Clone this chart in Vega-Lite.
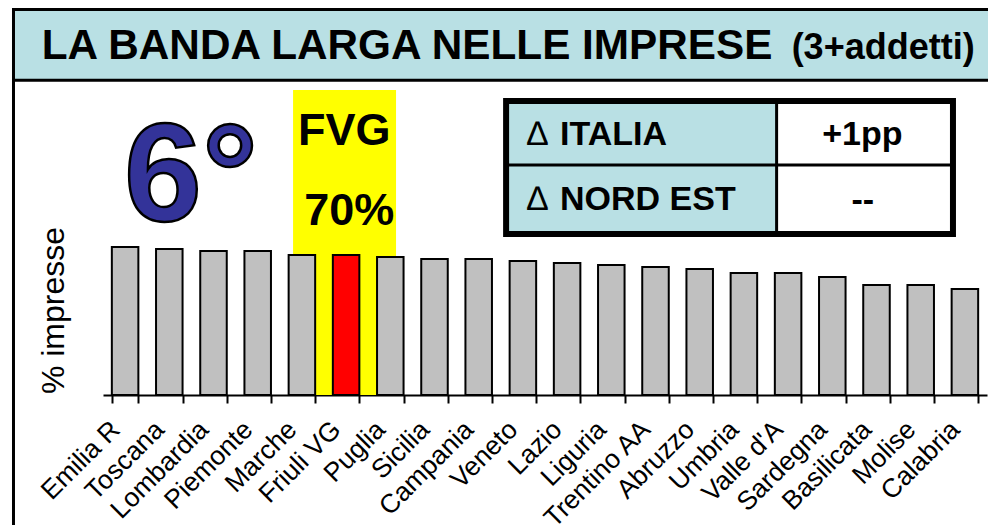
{
  "$schema": "https://vega.github.io/schema/vega-lite/v6.json",
  "width": 884,
  "height": 313,
  "autosize": {"type": "none"},
  "padding": {"left": 103, "top": 82, "right": 1, "bottom": 130},
  "background": "white",
  "config": {"view": {"stroke": null}, "font": "Liberation Sans", "text": {"font": "Liberation Sans"}},
  "datasets": {
    "bars": [
      {"regione": "Emilia R", "pct": 74},
      {"regione": "Toscana", "pct": 73},
      {"regione": "Lombardia", "pct": 72},
      {"regione": "Piemonte", "pct": 72},
      {"regione": "Marche", "pct": 70},
      {"regione": "Friuli VG", "pct": 70},
      {"regione": "Puglia", "pct": 69},
      {"regione": "Sicilia", "pct": 68},
      {"regione": "Campania", "pct": 68},
      {"regione": "Veneto", "pct": 67},
      {"regione": "Lazio", "pct": 66},
      {"regione": "Liguria", "pct": 65},
      {"regione": "Trentino AA", "pct": 64},
      {"regione": "Abruzzo", "pct": 63},
      {"regione": "Umbria", "pct": 61},
      {"regione": "Valle d'A", "pct": 61},
      {"regione": "Sardegna", "pct": 59},
      {"regione": "Basilicata", "pct": 55},
      {"regione": "Molise", "pct": 55},
      {"regione": "Calabria", "pct": 53}
    ],
    "one": [{}]
  },
  "resolve": {"scale": {"x": "independent"}, "axis": {"x": "independent", "y": "independent"}},
  "layer": [
    {
      "data": {"name": "one"},
      "mark": {"type": "rect", "fill": "#b9e0e4", "stroke": "black", "strokeWidth": 3},
      "encoding": {
        "x": {"datum": -2.025, "type": "quantitative", "scale": {"domain": [0, 20], "nice": false, "zero": false}, "axis": null},
        "x2": {"datum": 25},
        "y": {"datum": 192.75, "type": "quantitative", "scale": {"domain": [0, 156.5], "nice": false}, "axis": null},
        "y2": {"datum": 157.35}
      }
    },
    {
      "data": {"name": "one"},
      "mark": {"type": "rule", "stroke": "black", "strokeWidth": 3},
      "encoding": {
        "x": {"datum": -2.025, "type": "quantitative", "scale": {"domain": [0, 20], "nice": false, "zero": false}, "axis": null},
        "y": {"datum": 157.35, "type": "quantitative", "scale": {"domain": [0, 156.5], "nice": false}, "axis": null},
        "y2": {"datum": -90}
      }
    },
    {
      "data": {"name": "one"},
      "mark": {"type": "text", "fontSize": 42.3, "fontWeight": "bold", "align": "left", "baseline": "alphabetic", "color": "black"},
      "encoding": {
        "x": {"datum": -1.387, "type": "quantitative", "scale": {"domain": [0, 20], "nice": false, "zero": false}, "axis": null},
        "y": {"datum": 168, "type": "quantitative", "scale": {"domain": [0, 156.5], "nice": false}, "axis": null},
        "text": {"value": "LA BANDA LARGA NELLE IMPRESE"}
      }
    },
    {
      "data": {"name": "one"},
      "mark": {"type": "text", "fontSize": 36, "fontWeight": "bold", "align": "left", "baseline": "alphabetic", "color": "black"},
      "encoding": {
        "x": {"datum": 15.58, "type": "quantitative", "scale": {"domain": [0, 20], "nice": false, "zero": false}, "axis": null},
        "y": {"datum": 168, "type": "quantitative", "scale": {"domain": [0, 156.5], "nice": false}, "axis": null},
        "text": {"value": "(3+addetti)"}
      }
    },
    {
      "data": {"name": "one"},
      "mark": {"type": "rect", "fill": "#ffff00"},
      "encoding": {
        "x": {"datum": 4.3, "type": "quantitative", "scale": {"domain": [0, 20], "nice": false, "zero": false}, "axis": null},
        "x2": {"datum": 6.63},
        "y": {"datum": 152.5, "type": "quantitative", "scale": {"domain": [0, 156.5], "nice": false}, "axis": null},
        "y2": {"datum": 0}
      }
    },
    {
      "data": {"name": "bars"},
      "mark": {"type": "bar", "stroke": "black", "strokeWidth": 2},
      "encoding": {
        "x": {
          "field": "regione", "type": "nominal", "sort": null,
          "scale": {"paddingInner": 0.4, "paddingOuter": 0.2},
          "axis": {
            "title": null, "labelAngle": -45, "labelFontSize": 26.5, "labelColor": "black", "labelFont": "Liberation Sans",
            "labelOverlap": false, "labelLimit": 400, "tickBand": "extent", "domainColor": "black", "domainWidth": 2,
            "tickColor": "black", "tickWidth": 2, "tickSize": 8, "labelPadding": 13, "labelOffset": -19, "grid": false
          }
        },
        "y": {
          "field": "pct", "type": "quantitative",
          "scale": {"domain": [0, 156.5], "nice": false},
          "axis": {
            "title": "% impresse", "domain": false, "ticks": false, "labels": false, "grid": false,
            "titleFontSize": 32, "titleFontWeight": "normal", "titleColor": "black", "titleFont": "Liberation Sans",
            "titlePadding": 33, "titleY": 228
          }
        },
        "fill": {"condition": {"test": "datum.regione === 'Friuli VG'", "value": "#ff0000"}, "value": "#c0c0c0"}
      }
    },
    {
      "data": {"name": "one"},
      "mark": {"type": "text", "fontSize": 45, "fontWeight": "bold", "align": "center", "baseline": "alphabetic", "color": "black"},
      "encoding": {
        "x": {"datum": 5.46, "type": "quantitative", "scale": {"domain": [0, 20], "nice": false, "zero": false}, "axis": null},
        "y": {"datum": 125, "type": "quantitative", "scale": {"domain": [0, 156.5], "nice": false}, "axis": null},
        "text": {"value": "FVG"}
      }
    },
    {
      "data": {"name": "one"},
      "mark": {"type": "text", "fontSize": 45, "fontWeight": "bold", "align": "center", "baseline": "alphabetic", "color": "black"},
      "encoding": {
        "x": {"datum": 5.57, "type": "quantitative", "scale": {"domain": [0, 20], "nice": false, "zero": false}, "axis": null},
        "y": {"datum": 85, "type": "quantitative", "scale": {"domain": [0, 156.5], "nice": false}, "axis": null},
        "text": {"value": "70%"}
      }
    },
    {
      "data": {"name": "one"},
      "mark": {"type": "text", "fontSize": 140, "fontWeight": "bold", "align": "center", "baseline": "alphabetic", "fill": "#333399", "stroke": "black", "strokeWidth": 2.5},
      "encoding": {
        "x": {"datum": 1.99, "type": "quantitative", "scale": {"domain": [0, 20], "nice": false, "zero": false}, "axis": null},
        "y": {"datum": 87, "type": "quantitative", "scale": {"domain": [0, 156.5], "nice": false}, "axis": null},
        "text": {"value": "6°"}
      }
    },
    {
      "data": {"name": "one"},
      "mark": {"type": "rect", "fill": "#b9e0e4"},
      "encoding": {
        "x": {"datum": 9.12, "type": "quantitative", "scale": {"domain": [0, 20], "nice": false, "zero": false}, "axis": null},
        "x2": {"datum": 15.24},
        "y": {"datum": 147, "type": "quantitative", "scale": {"domain": [0, 156.5], "nice": false}, "axis": null},
        "y2": {"datum": 80.5}
      }
    },
    {
      "data": {"name": "one"},
      "mark": {"type": "rule", "stroke": "black", "strokeWidth": 3},
      "encoding": {
        "x": {"datum": 9.12, "type": "quantitative", "scale": {"domain": [0, 20], "nice": false, "zero": false}, "axis": null},
        "x2": {"datum": 19.23},
        "y": {"datum": 115, "type": "quantitative", "scale": {"domain": [0, 156.5], "nice": false}, "axis": null}
      }
    },
    {
      "data": {"name": "one"},
      "mark": {"type": "rule", "stroke": "black", "strokeWidth": 3},
      "encoding": {
        "x": {"datum": 15.24, "type": "quantitative", "scale": {"domain": [0, 20], "nice": false, "zero": false}, "axis": null},
        "y": {"datum": 147, "type": "quantitative", "scale": {"domain": [0, 156.5], "nice": false}, "axis": null},
        "y2": {"datum": 80.5}
      }
    },
    {
      "data": {"name": "one"},
      "mark": {"type": "rect", "fill": "white", "fillOpacity": 0, "stroke": "black", "strokeWidth": 6},
      "encoding": {
        "x": {"datum": 9.12, "type": "quantitative", "scale": {"domain": [0, 20], "nice": false, "zero": false}, "axis": null},
        "x2": {"datum": 19.23},
        "y": {"datum": 147, "type": "quantitative", "scale": {"domain": [0, 156.5], "nice": false}, "axis": null},
        "y2": {"datum": 80.5}
      }
    },
    {
      "data": {"name": "one"},
      "mark": {"type": "text", "fontSize": 34, "fontWeight": "normal", "align": "left", "baseline": "alphabetic", "color": "black"},
      "encoding": {
        "x": {"datum": 9.593, "type": "quantitative", "scale": {"domain": [0, 20], "nice": false, "zero": false}, "axis": null},
        "y": {"datum": 125, "type": "quantitative", "scale": {"domain": [0, 156.5], "nice": false}, "axis": null},
        "text": {"value": "∆"}
      }
    },
    {
      "data": {"name": "one"},
      "mark": {"type": "text", "fontSize": 34, "fontWeight": "normal", "align": "left", "baseline": "alphabetic", "color": "black"},
      "encoding": {
        "x": {"datum": 9.593, "type": "quantitative", "scale": {"domain": [0, 20], "nice": false, "zero": false}, "axis": null},
        "y": {"datum": 92.5, "type": "quantitative", "scale": {"domain": [0, 156.5], "nice": false}, "axis": null},
        "text": {"value": "∆"}
      }
    },
    {
      "data": {"name": "one"},
      "mark": {"type": "text", "fontSize": 34, "fontWeight": "bold", "align": "left", "baseline": "alphabetic", "color": "black"},
      "encoding": {
        "x": {"datum": 10.34, "type": "quantitative", "scale": {"domain": [0, 20], "nice": false, "zero": false}, "axis": null},
        "y": {"datum": 125, "type": "quantitative", "scale": {"domain": [0, 156.5], "nice": false}, "axis": null},
        "text": {"value": "ITALIA"}
      }
    },
    {
      "data": {"name": "one"},
      "mark": {"type": "text", "fontSize": 34, "fontWeight": "bold", "align": "left", "baseline": "alphabetic", "color": "black"},
      "encoding": {
        "x": {"datum": 10.34, "type": "quantitative", "scale": {"domain": [0, 20], "nice": false, "zero": false}, "axis": null},
        "y": {"datum": 92.5, "type": "quantitative", "scale": {"domain": [0, 156.5], "nice": false}, "axis": null},
        "text": {"value": "NORD EST"}
      }
    },
    {
      "data": {"name": "one"},
      "mark": {"type": "text", "fontSize": 34, "fontWeight": "bold", "align": "center", "baseline": "alphabetic", "color": "black"},
      "encoding": {
        "x": {"datum": 17.18, "type": "quantitative", "scale": {"domain": [0, 20], "nice": false, "zero": false}, "axis": null},
        "y": {"datum": 125, "type": "quantitative", "scale": {"domain": [0, 156.5], "nice": false}, "axis": null},
        "text": {"value": "+1pp"}
      }
    },
    {
      "data": {"name": "one"},
      "mark": {"type": "text", "fontSize": 34, "fontWeight": "bold", "align": "center", "baseline": "alphabetic", "color": "black"},
      "encoding": {
        "x": {"datum": 17.19, "type": "quantitative", "scale": {"domain": [0, 20], "nice": false, "zero": false}, "axis": null},
        "y": {"datum": 92, "type": "quantitative", "scale": {"domain": [0, 156.5], "nice": false}, "axis": null},
        "text": {"value": "--"}
      }
    }
  ]
}
